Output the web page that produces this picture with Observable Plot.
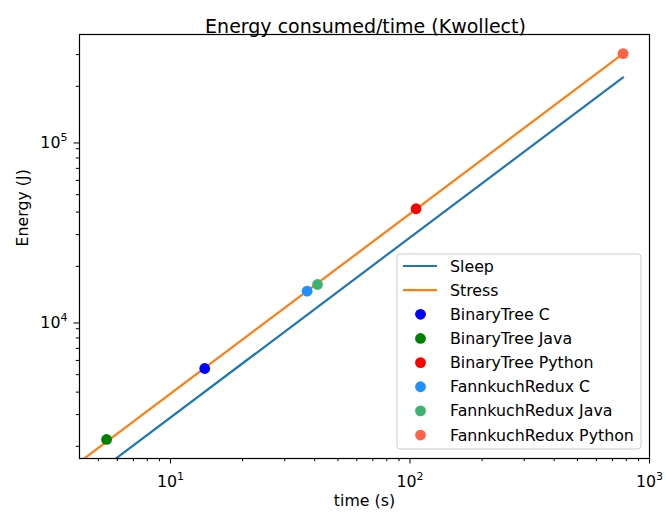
<!DOCTYPE html>
<html>
<head>
<meta charset="utf-8">
<script src="https://cdn.jsdelivr.net/npm/d3@7"></script>
<script src="https://cdn.jsdelivr.net/npm/@observablehq/plot@0.6"></script>
<style>
  html, body { margin: 0; padding: 0; background: #fff; }
  svg { display: block; }
</style>
</head>
<body>
<div id="chart"></div>
<script>
// ---- data ----
const benchNames = ["BinaryTree C", "BinaryTree Java", "BinaryTree Python", "FannkuchRedux C", "FannkuchRedux Java", "FannkuchRedux Python"];
const benchTimes = [13.9, 5.41, 106, 37.2, 41.1, 776];
const benchEnergy = [5410, 2183, 41750, 14550, 15850, 304000];
const benchColors = ["blue", "green", "red", "dodgerblue", "mediumseagreen", "tomato"];

const lineTimes = [4, 776];
const sleepEnergy = [1156, 224300];
const stressEnergy = [1568, 304000];
const lineNames = ["Sleep", "Stress"];
const lineColors = ["#1f77b4", "#ff7f0e"];

const xMajorTicks = [10, 100, 1000];
const xMinorTicks = [5, 6, 7, 8, 9, 20, 30, 40, 50, 60, 70, 80, 90, 200, 300, 400, 500, 600, 700, 800, 900];
const yMajorTicks = [10000, 100000];
const yMinorTicks = [2000, 3000, 4000, 5000, 6000, 7000, 8000, 9000, 20000, 30000, 40000, 50000, 60000, 70000, 80000, 90000, 200000, 300000];

const titleText = "Energy consumed/time (Kwollect)";
const xLabel = "time (s)";
const yLabel = "Energy (J)";

// ---- build tables ----
const points = benchNames.map((name, i) => ({name, t: benchTimes[i], e: benchEnergy[i], color: benchColors[i]}));
const sleepLine = lineTimes.map((t, i) => ({t, e: sleepEnergy[i]}));
const stressLine = lineTimes.map((t, i) => ({t, e: stressEnergy[i]}));

// tick label "10^n" (rendered with a real superscript afterwards)
const powFmt = d => "10^" + Math.round(Math.log10(d));

const FS = 15.8;

const plot = Plot.plot({
  width: 665,
  height: 520,
  marginLeft: 79,
  marginRight: 16,
  marginTop: 34,
  marginBottom: 62,
  style: {fontFamily: "DejaVu Sans", fontSize: FS + "px", color: "#000", background: "#fff"},
  x: {type: "log", domain: [4.17, 1000]},
  y: {type: "log", domain: [1711, 388000]},
  color: {type: "identity"},
  marks: [
    Plot.line(sleepLine, {x: "t", y: "e", stroke: lineColors[0], strokeWidth: 2.2, clip: true}),
    Plot.line(stressLine, {x: "t", y: "e", stroke: lineColors[1], strokeWidth: 2.2, clip: true}),
    Plot.dot(points, {x: "t", y: "e", fill: "color", r: 5.4, stroke: null}),
    Plot.axisX({ticks: xMajorTicks, tickFormat: powFmt, tickSize: 5.5, tickPadding: 11.5, label: null, fontSize: FS}),
    Plot.axisX({ticks: xMinorTicks, tickFormat: () => "", tickSize: 3.2, label: null}),
    Plot.axisY({ticks: yMajorTicks, tickFormat: powFmt, tickSize: 5.5, tickPadding: 6.5, label: null, dy: 2.5, fontSize: FS}),
    Plot.axisY({ticks: yMinorTicks, tickFormat: () => "", tickSize: 3.2, label: null}),
    Plot.frame({stroke: "#000", strokeWidth: 1.2}),
    Plot.text([titleText], {text: d => d, frameAnchor: "top", dy: -15, dx: 1, fontSize: 19, fill: "#000"}),
    Plot.text([xLabel], {text: d => d, frameAnchor: "bottom", dy: 47, fontSize: FS, fill: "#000"}),
    Plot.text([yLabel], {text: d => d, frameAnchor: "left", rotate: -90, dx: -57, fontSize: FS, fill: "#000"})
  ]
});

document.getElementById("chart").appendChild(plot);

const svg = d3.select(plot);

// turn "10^n" tick labels into 10 with a superscript exponent
svg.selectAll("text").each(function() {
  const el = d3.select(this);
  const s = el.text();
  const m = /^10\^(\d+)$/.exec(s);
  if (!m) return;
  el.text("");
  el.append("tspan").text("10");
  el.append("tspan").attr("font-size", "70%").attr("dy", "-0.62em").text(m[1]);
});

// ---- legend (matplotlib-style, lower right) ----
const lg = svg.append("g").attr("font-family", "DejaVu Sans").attr("font-size", FS + "px").attr("text-anchor", "start");
const boxX = 397, boxY = 254, boxW = 244, boxH = 195, rowY0 = 266, rowStep = 24.15;
lg.append("rect")
  .attr("x", boxX).attr("y", boxY).attr("width", boxW).attr("height", boxH)
  .attr("rx", 3).attr("fill", "white").attr("fill-opacity", 0.8)
  .attr("stroke", "#cccccc").attr("stroke-width", 1);
const entries = [
  ...lineNames.map((n, i) => ({name: n, color: lineColors[i], kind: "line"})),
  ...benchNames.map((n, i) => ({name: n, color: benchColors[i], kind: "dot"}))
];
entries.forEach((en, i) => {
  const y = rowY0 + i * rowStep;
  if (en.kind === "line") {
    lg.append("line").attr("x1", 403).attr("x2", 437).attr("y1", y).attr("y2", y)
      .attr("stroke", en.color).attr("stroke-width", 2.2);
  } else {
    lg.append("circle").attr("cx", 420.5).attr("cy", y).attr("r", 5.4).attr("fill", en.color);
  }
  lg.append("text").attr("x", 450).attr("y", y).attr("dy", "0.35em").attr("text-anchor", "start").attr("fill", "#000").text(en.name);
});
</script>
</body>
</html>
